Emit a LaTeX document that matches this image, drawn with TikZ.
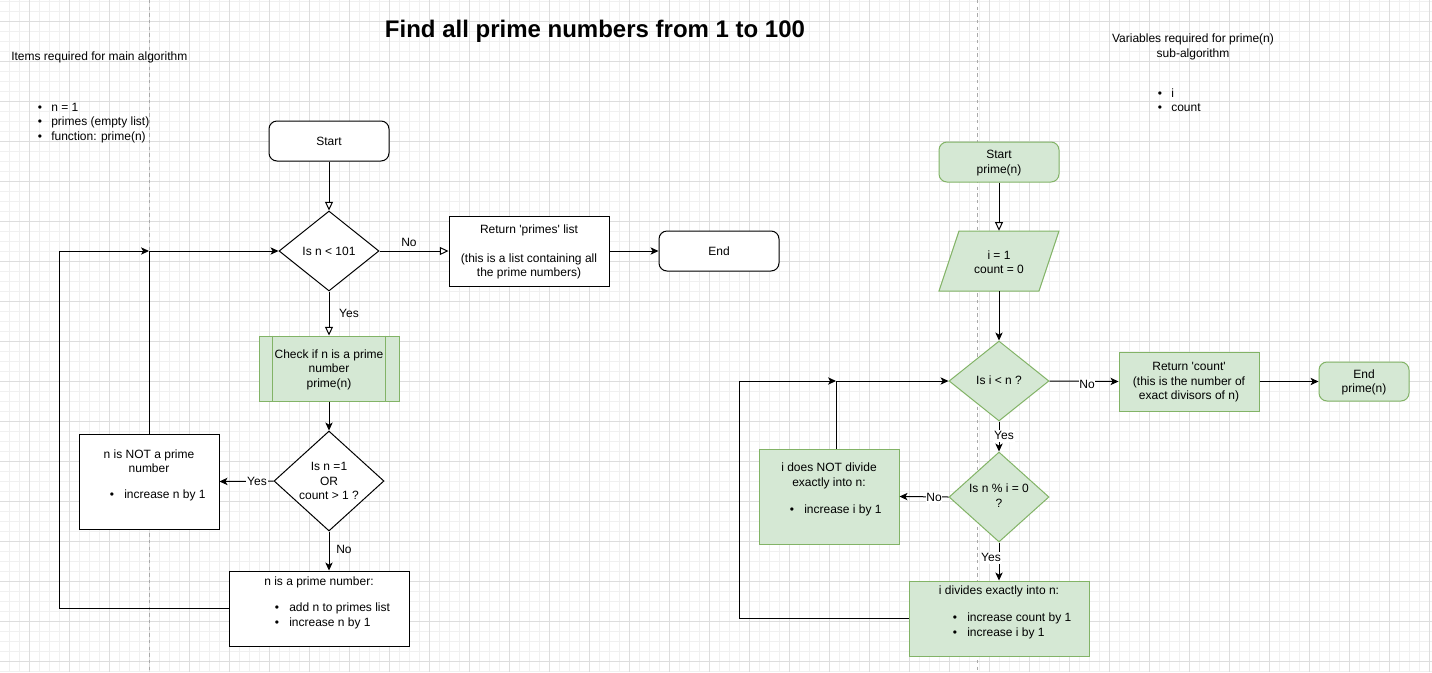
\documentclass[tikz,border=0pt]{standalone}
\usepackage{fontspec}
\setmainfont{Liberation Sans}
\usetikzlibrary{arrows.meta,shapes.geometric,fit}
\definecolor{gfill}{HTML}{D5E8D4}
\definecolor{gdraw}{HTML}{82B366}
\definecolor{gridmaj}{HTML}{DDDDDD}
\definecolor{gridmin}{HTML}{F0F0F0}
\definecolor{dashcol}{HTML}{AAAAAA}
\tikzset{
  base/.style={font=\fontsize{9}{10.8}\selectfont,yshift=-0.75pt},
  txt/.style={base,inner sep=0pt,text height=6.5pt,text depth=1.9pt},
  mtxt/.style={base,inner sep=0pt,align=center},
  boxw/.style={draw=black,fill=white,line width=0.75pt,inner sep=0pt},
  boxg/.style={draw=gdraw,fill=gfill,line width=0.75pt,inner sep=0pt},
  rboxw/.style={boxw,rounded corners=6pt},
  rboxg/.style={boxg,rounded corners=6pt},
  diamw/.style={diamond,draw=black,fill=white,line width=0.75pt,inner sep=0pt},
  diamg/.style={diamond,draw=gdraw,fill=gfill,line width=0.75pt,inner sep=0pt},
  conn/.style={line width=0.75pt,-{Stealth[length=6pt,width=5.5pt,inset=1.6pt]}},
  oconn/.style={line width=0.75pt,-{Triangle[open,length=6.5pt,width=6pt,fill=white]}},
  elab/.style={txt,fill=white,inner sep=0.6pt},
  minor/.style={gridmin,line width=0.5pt},
  major/.style={gridmaj,line width=0.6pt},
  guide/.style={dashcol,line width=0.6pt,dash pattern=on 2.5pt off 2.5pt},
}
\newcommand\bul{\textbullet}
\newcommand\sq{\textquotesingle}
\begin{document}
\begin{tikzpicture}[x=0.75pt,y=-0.75pt]
\useasboundingbox[fill=white] (0,0) rectangle (1432,672);
% grid
\foreach \x in {9,19,...,1429} \draw[minor] (\x,0) -- (\x,672);
\foreach \y in {1.7,11.7,...,671.7} \draw[minor] (0,\y) -- (1432,\y);
\foreach \x in {29,69,...,1429} \draw[major] (\x,0) -- (\x,672);
\foreach \y in {21.7,61.7,...,661.7} \draw[major] (0,\y) -- (1432,\y);
\draw[guide] (149,0) -- (149,672);
\draw[guide] (977,0) -- (977,672);

% title and notes
\node[inner sep=0pt,font=\fontsize{18}{21.6}\selectfont\bfseries] (title) at (595,31) {Find all prime numbers from 1 to 100};
\node[txt,anchor=west] (itemsh) at (11,56) {Items required for main algorithm};
\node[txt] (ib1) at (40,107) {\bul};
\node[txt,anchor=west] (it1) at (51,107) {n = 1};
\node[txt] (ib2) at (40,121) {\bul};
\node[txt,anchor=west] (it2) at (51,121) {primes (empty list)};
\node[txt] (ib3) at (40,136) {\bul};
\node[txt,anchor=west] (it3) at (51,136) {function: prime(n)};

\node[mtxt] (varsh) at (1193,46) {Variables required for prime(n)\\sub-algorithm};
\node[txt] (vb1) at (1160,93) {\bul};
\node[txt,anchor=west] (vt1) at (1171,93) {i};
\node[txt] (vb2) at (1160,107) {\bul};
\node[txt,anchor=west] (vt2) at (1171,107) {count};

% ---------------- main algorithm ----------------
\node[rboxw,fit={(269,121)(389,161)}] (start) {};
\node[txt] at (start) {Start};

\node[diamw,minimum width=75pt,minimum height=60pt] (d1) at (329,251) {};
\node[txt] at (d1) {Is n < 101};

\node[boxw,fit={(449,216)(609,286)}] (ret) {};
\node[mtxt] at (ret) {Return \sq primes\sq\ list\\\mbox{}\\(this is a list containing all\\the prime numbers)};

\node[rboxw,fit={(659,231)(779,271)}] (end) {};
\node[txt] at (end) {End};

\node[boxg,fit={(259,336)(399,401)}] (proc) {};
\draw[gdraw,line width=0.75pt] ([xshift=10.5pt]proc.north west) -- ([xshift=10.5pt]proc.south west);
\draw[gdraw,line width=0.75pt] ([xshift=-10.5pt]proc.north east) -- ([xshift=-10.5pt]proc.south east);
\node[mtxt] at (proc) {Check if n is a prime\\number\\prime(n)};

\node[diamw,minimum width=82.5pt,minimum height=75pt] (d2) at (329,481) {};
\node[mtxt] at (329,480) {Is n =1\\OR\\count > 1 ?};

\node[boxw,fit={(79,434)(219,529)}] (notp) {};
\node[mtxt] at (149,460) {n is NOT a prime\\number};
\node[txt] at (112,494) {\bul};
\node[txt,anchor=west] at (124,494) {increase n by 1};

\node[boxw,fit={(229,571)(409,646)}] (isp) {};
\node[txt] at (319,581) {n is a prime number:};
\node[txt] at (277,607) {\bul};
\node[txt,anchor=west] at (289,607) {add n to primes list};
\node[txt] at (277,622) {\bul};
\node[txt,anchor=west] at (289,622) {increase n by 1};

\coordinate (lloop) at (59,251);
\coordinate (ljoin) at (149,251);

\draw[oconn] (start.south) -- (d1.north);
\draw[oconn] (d1.east) -- (ret.west);
\node[txt] at (409,242) {No};
\draw[conn] (ret.east) -- (end.west);
\draw[oconn] (d1.south) -- (proc.north);
\node[txt] at (349,313) {Yes};
\draw[conn] (proc.south) -- (d2.north);
\draw[conn] (d2.west) -- (notp.east);
\node[elab] at (257,481) {Yes};
\draw[conn] (d2.south) -- (d2.south |- isp.north);
\node[txt] at (344,549) {No};
\draw[conn] (notp.north) |- (d1.west);
\draw[conn] (isp.west) -| (lloop) -- (ljoin);

% ---------------- prime(n) sub-algorithm ----------------
\node[rboxg,fit={(939,142)(1059,182)}] (startp) {};
\node[mtxt] at (startp) {Start\\prime(n)};

\draw[gdraw,fill=gfill,line width=0.75pt] (959,231) -- (1059,231) -- (1039,291) -- (939,291) -- cycle;
\node[inner sep=0pt,fit={(959,231)(1039,291)}] (para) {};
\node[mtxt] at (para) {i = 1\\count = 0};

\node[diamg,minimum width=75pt,minimum height=60pt] (r1) at (999,381) {};
\node[txt] at (999,380) {Is i < n ?};

\node[boxg,fit={(1119,352)(1259,411)}] (retc) {};
\node[mtxt] at (retc) {Return \sq count\sq\\(this is the number of\\exact divisors of n)};

\node[rboxg,fit={(1319,362)(1409,401)}] (endp) {};
\node[mtxt] at (endp) {End\\prime(n)};

\node[diamg,minimum width=75pt,minimum height=67.5pt] (r2) at (999,497) {};
\node[mtxt] at (999,494.5) {Is n \% i = 0\\?};

\node[boxg,fit={(759,449)(899,544)}] (notd) {};
\node[mtxt] at (829,475) {i does NOT divide\\exactly into n:};
\node[txt] at (792,509) {\bul};
\node[txt,anchor=west] at (804,509) {increase i by 1};

\node[boxg,fit={(909,581)(1089,656)}] (divd) {};
\node[txt] at (999,590) {i divides exactly into n:};
\node[txt] at (955,617) {\bul};
\node[txt,anchor=west] at (967,617) {increase count by 1};
\node[txt] at (955,632) {\bul};
\node[txt,anchor=west] at (967,632) {increase i by 1};

\coordinate (rloop) at (739,381);
\coordinate (rjoin) at (836,381);

\draw[oconn] (startp.south) -- (para.north);
\draw[conn] (para.south) -- (r1.north);
\draw[conn] (r1.east) -- (retc.west);
\node[elab] at (1087,384) {No};
\draw[conn] (retc.east) -- (endp.west);
\draw[conn] (r1.south) -- (r2.north);
\node[elab] at (1004,435) {Yes};
\draw[conn] (r2.west) -- (notd.east);
\node[elab] at (934,497) {No};
\draw[conn] (r2.south) -- (divd.north);
\node[elab] at (991,557) {Yes};
\draw[conn] (notd.north -| rjoin) |- (r1.west);
\draw[conn] (divd.west) -| (rloop) -- (rjoin);
\end{tikzpicture}
\end{document}
